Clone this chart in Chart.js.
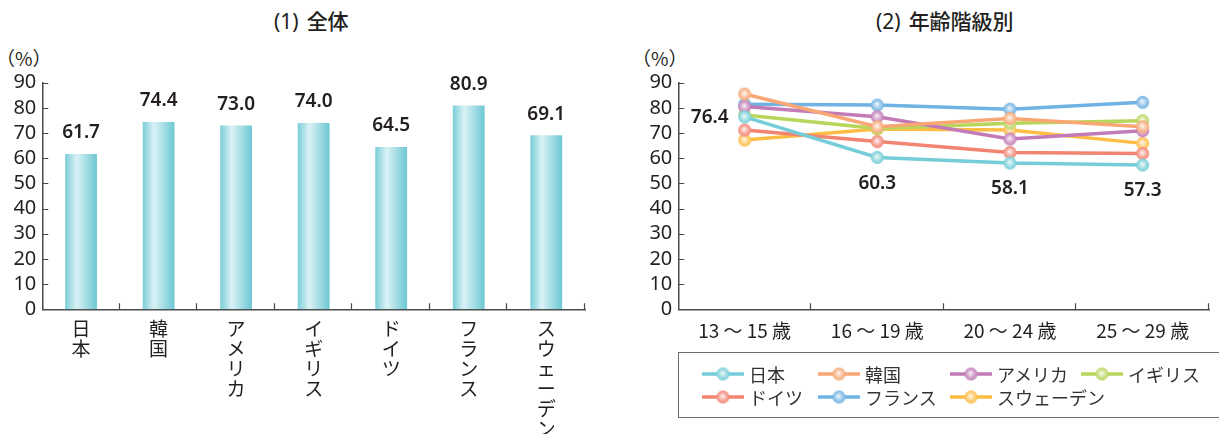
<!DOCTYPE html>
<html>
<head>
<meta charset="utf-8">
<script src="https://cdn.jsdelivr.net/npm/chart.js@4/dist/chart.umd.min.js"></script>
<style>
  body { margin: 0; background: #fff; width: 1219px; height: 434px; overflow: hidden; position: relative;
         font-family: "Noto Sans", "Noto Sans CJK JP", sans-serif; color: #231f20; }
  canvas { position: absolute; top: 0; }
  .title { position: absolute; top: 5px; font-size: 21px; font-weight: 400; white-space: nowrap;
           font-family: "Noto Sans", "Noto Sans CJK JP", sans-serif; }
  .title b { font-weight: 500; margin-left: 8px; font-family: "Noto Sans CJK JP", sans-serif; }
  .pct { position: absolute; top: 44px; font-size: 19px; font-family: "Noto Sans CJK JP", sans-serif; }
  #legend { position: absolute; left: 678px; top: 352px; width: 560px; height: 66px; border: 1.5px solid #6d6d6d; box-sizing: border-box; }
  .item { position: absolute; display: flex; align-items: center; height: 20px; font-size: 18px; font-family: "Noto Sans CJK JP", sans-serif; color: #333; }
  .item span { margin-left: 5px; }
</style>
</head>
<body>
<div class="title" style="left:274px">(1)<b>全体</b></div>
<div class="title" style="left:876px">(2)<b>年齢階級別</b></div>
<div class="pct" style="left:-4px">（%）</div>
<div class="pct" style="left:632px">（%）</div>
<canvas id="overall" width="600" height="434" style="left:0"></canvas>
<canvas id="byAge" width="599" height="434" style="left:620px"></canvas>
<div id="legend"></div>
<script>
// (1) 全体
const countries = ['日本', '韓国', 'アメリカ', 'イギリス', 'ドイツ', 'フランス', 'スウェーデン'];
const overall = [61.7, 74.4, 73.0, 74.0, 64.5, 80.9, 69.1];

// (2) 年齢階級別
const ageGroups = ['13 ～ 15 歳', '16 ～ 19 歳', '20 ～ 24 歳', '25 ～ 29 歳'];
const japan   = [76.4, 60.3, 58.1, 57.3];
const korea   = [85.5, 72.5, 75.8, 72.5];
const usa     = [80.5, 76.5, 67.6, 70.9];
const uk      = [77.2, 71.8, 73.9, 74.9];
const germany = [71.2, 66.6, 62.3, 61.9];
const france  = [81.4, 81.1, 79.5, 82.2];
const sweden  = [67.2, 71.6, 71.2, 65.9];

const yMax = 90;
const yStep = 10;

const seriesColors = ['#74cdd8', '#f8a673', '#c27bb6', '#b8d55c', '#f28472', '#70b2e3', '#fdbd45'];
const numFont = '"Noto Sans", "Noto Sans CJK JP", sans-serif';
const jpFont = '"Noto Sans CJK JP", sans-serif';
const textColor = '#231f20';
const axisColor = '#4a4a4a';

// shiny ball used as point marker
function ball(color, r) {
    const c = document.createElement('canvas');
    const s = Math.ceil(r * 2 + 2);
    c.width = c.height = s;
    const g = c.getContext('2d');
    const m = s / 2;
    g.beginPath();
    g.arc(m, m, r, 0, Math.PI * 2);
    g.fillStyle = color;
    g.fill();
    const grad = g.createRadialGradient(m - 0.5, m - 1, 0, m, m, r);
    grad.addColorStop(0, 'rgba(255,255,255,0.95)');
    grad.addColorStop(0.45, 'rgba(255,255,255,0.45)');
    grad.addColorStop(1, 'rgba(255,255,255,0)');
    g.fillStyle = grad;
    g.fill();
    return c;
}

// ticks pointing into the plot area
const innerTicks = {
    id: 'innerTicks',
    afterDraw(chart) {
        const {ctx} = chart;
        const xs = chart.scales.x, ys = chart.scales.y;
        ctx.save();
        ctx.strokeStyle = axisColor;
        ctx.lineWidth = 1.2;
        ctx.beginPath();
        ys.ticks.forEach(t => {
            const py = Math.round(ys.getPixelForValue(t.value)) + 0.5;
            ctx.moveTo(xs.left, py);
            ctx.lineTo(xs.left + 6, py);
        });
        const n = xs.ticks.length;
        const w = (xs.right - xs.left) / n;
        for (let i = 1; i <= n; i++) {
            const px = Math.round(xs.left + i * w) - 0.5;
            ctx.moveTo(px, ys.bottom);
            ctx.lineTo(px, ys.bottom - 6);
        }
        ctx.stroke();
        ctx.restore();
    }
};

const barLabels = {
    id: 'barLabels',
    afterDatasetsDraw(chart) {
        const {ctx} = chart;
        const meta = chart.getDatasetMeta(0);
        ctx.save();
        ctx.font = '600 19px ' + numFont;
        ctx.fillStyle = textColor;
        ctx.textAlign = 'center';
        ctx.textBaseline = 'middle';
        meta.data.forEach((bar, i) => {
            ctx.fillText(overall[i].toFixed(1), bar.x, bar.y - 21);
        });
        ctx.restore();
    }
};

const japanLabels = {
    id: 'japanLabels',
    afterDatasetsDraw(chart) {
        const {ctx} = chart;
        const meta = chart.getDatasetMeta(0);
        ctx.save();
        ctx.font = '600 19px ' + numFont;
        ctx.fillStyle = textColor;
        ctx.textBaseline = 'middle';
        meta.data.forEach((pt, i) => {
            const txt = japan[i].toFixed(1);
            if (i === 0) {
                ctx.textAlign = 'right';
                ctx.fillText(txt, pt.x - 16, pt.y + 1);
            } else {
                ctx.textAlign = 'center';
                ctx.fillText(txt, pt.x, pt.y + 26);
            }
        });
        ctx.restore();
    }
};

function barFill(c) {
    const chart = c.chart;
    const xs = chart.scales.x;
    if (!chart.chartArea || !xs) return '#7ccfd9';
    const cx = xs.getPixelForValue(c.dataIndex);
    const half = xs.width / countries.length * 0.41 / 2;
    const g = chart.ctx.createLinearGradient(cx - half, 0, cx + half, 0);
    g.addColorStop(0, '#7acdd8');
    g.addColorStop(0.36, '#daf2f5');
    g.addColorStop(1, '#6cc7d3');
    return g;
}

function yAxis(width) {
    return {
        min: 0, max: yMax,
        ticks: { stepSize: yStep, autoSkip: false, padding: 6, color: textColor, font: { family: numFont, size: 20, lineHeight: 1 } },
        grid: { display: false, drawTicks: false },
        border: { display: true, color: axisColor, width: 1.5 },
        afterFit(scale) { scale.width = width; }
    };
}

new Chart(document.getElementById('overall'), {
    type: 'bar',
    data: {
        labels: countries.map(s => Array.from(s)),
        datasets: [{
            data: overall,
            backgroundColor: barFill,
            barPercentage: 0.41,
            categoryPercentage: 1
        }]
    },
    options: {
        responsive: false,
        animation: false,
        layout: { padding: { top: 82.7, right: 15, left: 0, bottom: 0 } },
        plugins: { legend: { display: false }, tooltip: { enabled: false } },
        scales: {
            x: {
                ticks: { padding: 9, color: textColor, font: { family: jpFont, size: 19, lineHeight: 1.06 }, maxRotation: 0, autoSkip: false },
                grid: { display: false, drawTicks: false },
                border: { display: true, color: axisColor, width: 1.5 },
                afterFit(scale) { scale.height = 124.7; }
            },
            y: yAxis(42.3)
        }
    },
    plugins: [innerTicks, barLabels]
});

const seriesNames = ['日本', '韓国', 'アメリカ', 'イギリス', 'ドイツ', 'フランス', 'スウェーデン'];
const seriesData = [japan, korea, usa, uk, germany, france, sweden];

new Chart(document.getElementById('byAge'), {
    type: 'line',
    data: {
        labels: ageGroups,
        datasets: seriesData.map((d, i) => ({
            label: seriesNames[i],
            data: d,
            borderColor: seriesColors[i],
            borderWidth: 3.5,
            pointStyle: ball(seriesColors[i], 6.5),
            pointRadius: 6.5,
            tension: 0
        }))
    },
    options: {
        responsive: false,
        animation: false,
        layout: { padding: { top: 82.7, right: 0, left: 0, bottom: 0 } },
        plugins: { legend: { display: false }, tooltip: { enabled: false } },
        scales: {
            x: {
                offset: true,
                ticks: { padding: 10, color: textColor, font: { family: jpFont, size: 19 }, maxRotation: 0, autoSkip: false },
                grid: { display: false, drawTicks: false, offset: true },
                border: { display: true, color: axisColor, width: 1.5 },
                afterFit(scale) { scale.height = 124.7; }
            },
            y: yAxis(58.3)
        }
    },
    plugins: [innerTicks, japanLabels]
});

// legend box
const legend = document.getElementById('legend');
const colX = [23, 139, 271, 402];
const rowY = [11, 34];
seriesNames.forEach((name, i) => {
    const item = document.createElement('div');
    item.className = 'item';
    item.style.left = colX[i % 4] + 'px';
    item.style.top = rowY[Math.floor(i / 4)] + 'px';
    const c = document.createElement('canvas');
    c.width = 42; c.height = 18;
    c.style.position = 'static';
    const g = c.getContext('2d');
    g.strokeStyle = seriesColors[i];
    g.lineWidth = 3.5;
    g.beginPath(); g.moveTo(0, 9); g.lineTo(42, 9); g.stroke();
    g.drawImage(ball(seriesColors[i], 6.5), 21 - 7.5, 9 - 7.5);
    item.appendChild(c);
    const s = document.createElement('span');
    s.textContent = name;
    item.appendChild(s);
    legend.appendChild(item);
});
</script>
</body>
</html>
